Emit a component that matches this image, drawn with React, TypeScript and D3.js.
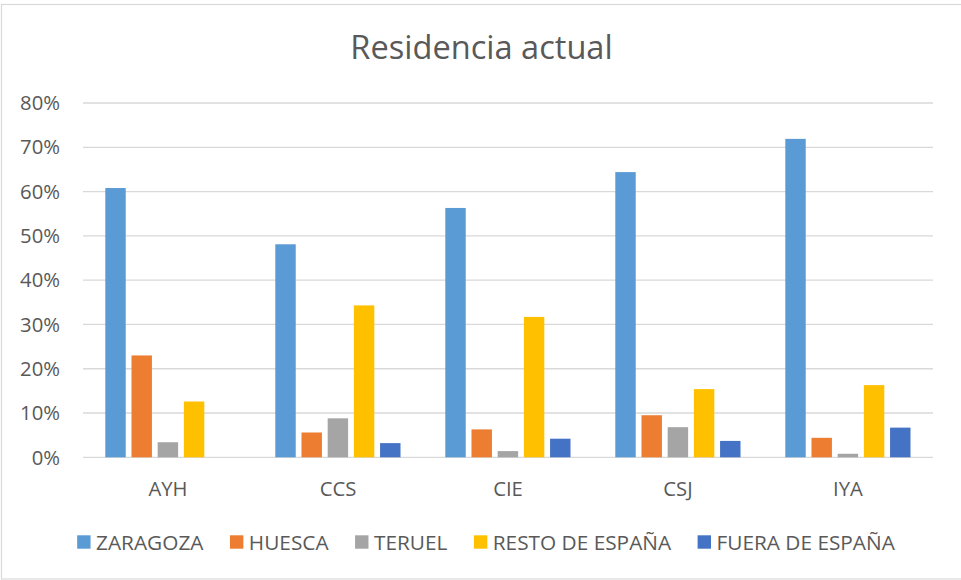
import React, { useEffect, useRef } from "react";
import * as d3 from "d3";

const categories = ["AYH", "CCS", "CIE", "CSJ", "IYA"];
const seriesNames = ["ZARAGOZA", "HUESCA", "TERUEL", "RESTO DE ESPAÑA", "FUERA DE ESPAÑA"];
const seriesColors = ["#5B9BD5", "#ED7D31", "#A5A5A5", "#FFC000", "#4472C4"];
const zaragoza = [0.608, 0.481, 0.563, 0.644, 0.719];
const huesca = [0.23, 0.056, 0.063, 0.095, 0.044];
const teruel = [0.034, 0.088, 0.014, 0.068, 0.008];
const restoEspana = [0.126, 0.343, 0.317, 0.154, 0.163];
const fueraEspana = [0, 0.032, 0.042, 0.037, 0.067];
const yTicks = [0, 0.1, 0.2, 0.3, 0.4, 0.5, 0.6, 0.7, 0.8];
const title = "Residencia actual";

const W = 961;
const H = 580;
const FONT = "'Open Sans', 'DejaVu Sans', sans-serif";
const TEXT = "#595959";

export default function App() {
  const ref = useRef<SVGSVGElement | null>(null);

  useEffect(() => {
    const svg = d3.select(ref.current);
    svg.selectAll("*").remove();
    const values = [zaragoza, huesca, teruel, restoEspana, fueraEspana];

    const plot = { left: 83, right: 933, top: 103, bottom: 457.3 };

    svg
      .append("rect")
      .attr("x", 1.5)
      .attr("y", 4.5)
      .attr("width", W + 10)
      .attr("height", 574.5)
      .attr("fill", "#fff")
      .attr("stroke", "#D9D9D9")
      .attr("stroke-width", 1.2);

    svg
      .append("text")
      .attr("x", 481.5)
      .attr("y", 59)
      .attr("text-anchor", "middle")
      .attr("font-family", FONT)
      .attr("font-size", 32.6)
      .attr("fill", TEXT)
      .text(title);

    const x = d3.scaleBand<string>().domain(categories).range([plot.left, plot.right]).padding(0);
    const xInner = d3
      .scaleBand<string>()
      .domain(seriesNames)
      .range([22.3, 147.5])
      .paddingInner(0.22);
    const y = d3.scaleLinear().domain([0, 0.8]).range([plot.bottom, plot.top]);

    const grid = svg.append("g");
    yTicks.forEach((t) => {
      grid
        .append("line")
        .attr("x1", plot.left)
        .attr("x2", plot.right)
        .attr("y1", y(t))
        .attr("y2", y(t))
        .attr("stroke", "#D9D9D9")
        .attr("stroke-width", 1.3);
      grid
        .append("text")
        .attr("x", 60)
        .attr("y", y(t) + 7.2)
        .attr("text-anchor", "end")
        .attr("font-family", FONT)
        .attr("font-size", 20.3)
        .attr("fill", TEXT)
        .text(d3.format(".0%")(t));
    });

    const bars = svg.append("g");
    seriesNames.forEach((s, si) => {
      categories.forEach((c, ci) => {
        const v = values[si][ci];
        if (v <= 0) return;
        bars
          .append("rect")
          .attr("x", (x(c) as number) + (xInner(s) as number))
          .attr("y", y(v))
          .attr("width", xInner.bandwidth())
          .attr("height", y(0) - y(v))
          .attr("fill", seriesColors[si]);
      });
    });

    categories.forEach((c) => {
      svg
        .append("text")
        .attr("x", (x(c) as number) + x.bandwidth() / 2)
        .attr("y", 495.5)
        .attr("text-anchor", "middle")
        .attr("font-family", FONT)
        .attr("font-size", 20.3)
        .attr("fill", TEXT)
        .text(c);
    });

    // legend
    const lg = svg.append("g");
    const sq = 13.4;
    const gapSqText = 5.5;
    const gapItems = 26.5;
    const items = seriesNames.map((s, i) => {
      const g = lg.append("g");
      g.append("rect")
        .attr("x", 0)
        .attr("y", 535.3)
        .attr("width", sq)
        .attr("height", sq)
        .attr("fill", seriesColors[i]);
      const t = g
        .append("text")
        .attr("x", sq + gapSqText)
        .attr("y", 549.5)
        .attr("font-family", FONT)
        .attr("font-size", 20.8)
        .attr("fill", TEXT)
        .text(s);
      const w = (t.node() as SVGTextElement).getComputedTextLength();
      return { g, width: sq + gapSqText + w };
    });
    const total = items.reduce((a, b) => a + b.width, 0) + gapItems * (items.length - 1);
    let cx = 486 - total / 2;
    items.forEach((it) => {
      it.g.attr("transform", `translate(${cx},0)`);
      cx += it.width + gapItems;
    });
  }, []);

  return (
    <svg
      ref={ref}
      width={W}
      height={H}
      style={{ position: "absolute", left: 0, top: 0, background: "#fff" }}
    />
  );
}
